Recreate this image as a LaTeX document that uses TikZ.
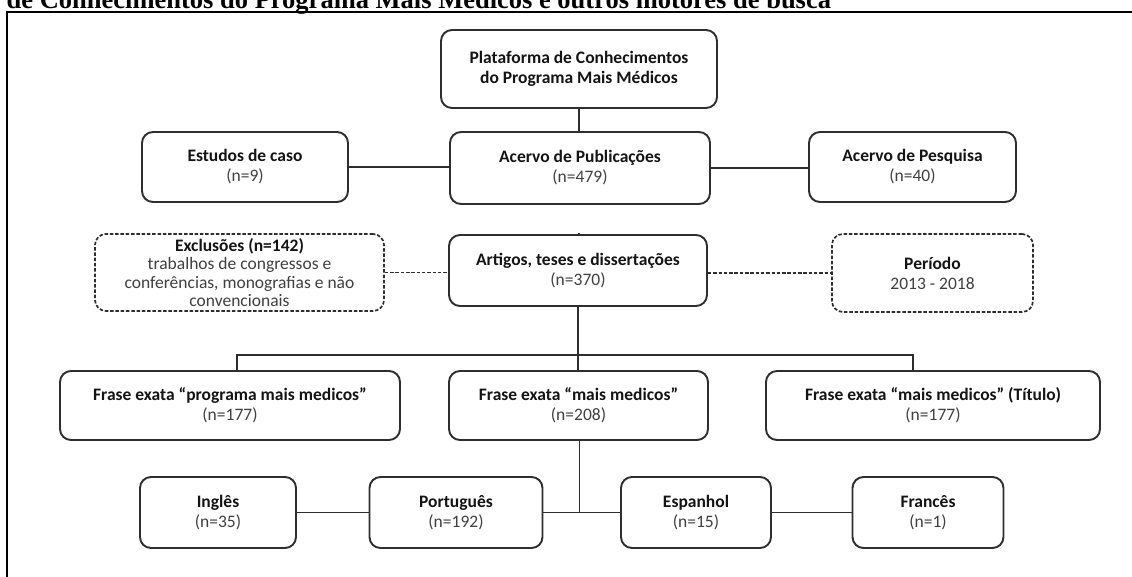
\documentclass[tikz,border=0pt]{standalone}
\usepackage{fontspec}
\setmainfont{Carlito}
\newfontfamily\titlefont{Liberation Serif}
\newcommand\hd[1]{{\bfseries\color{black!92}#1}}
\begin{document}
\begin{tikzpicture}[x=1pt,y=-1pt,
  box/.style={draw=black!82, line width=1.9pt, rounded corners=11pt, align=center, inner sep=0pt,
    font=\fontsize{17.5}{20}\selectfont, text=black!75},
  dbox/.style={box, line width=1.7pt, dash pattern=on 3.5pt off 1.8pt},
  link/.style={draw=black!82, line width=1.9pt},
  dlink/.style={link, line width=1.7pt, dash pattern=on 3.5pt off 1.8pt}]
\useasboundingbox (0,0) rectangle (1132,576);
\clip (0,0) rectangle (1132,576);
\fill[white] (0,0) rectangle (1132,576);
% title and frame
\node[anchor=base west, inner sep=0pt, font=\titlefont\bfseries\fontsize{26.5}{30}\selectfont] (title) at (6.5,8)
  {de Conhecimentos do Programa Mais Médicos e outros motores de busca};
\draw[line width=2pt, black] (7,600) -- (7,12) -- (1140,12);
% nodes
\node[box, minimum width=276pt, minimum height=78pt] (plat) at (579,69)
  {\hd{Plataforma de Conhecimentos}\\\hd{do Programa Mais Médicos}};
\node[box, minimum width=260pt, minimum height=72pt] (pub) at (580,168) {\hd{Acervo de Publicações}\\(n=479)};
\node[box, minimum width=206pt, minimum height=70pt] (est) at (245,167) {\hd{Estudos de caso}\\(n=9)};
\node[box, minimum width=207pt, minimum height=70pt] (pesq) at (912.5,167) {\hd{Acervo de Pesquisa}\\(n=40)};
\node[box, minimum width=258pt, minimum height=71pt] (art) at (578,270.5) {\hd{Artigos, teses e dissertações}\\(n=370)};
\node[dbox, minimum width=289pt, minimum height=77pt, font=\fontsize{17.5}{18.5}\selectfont] (excl) at (239.5,272.5)
  {\hd{Exclusões (n=142)}\\trabalhos de congressos e\\conferências, monografias e não\\convencionais};
\node[dbox, minimum width=201pt, minimum height=78pt] (per) at (932.5,273) {\hd{Período}\\2013 - 2018};
\node[box, minimum width=340pt, minimum height=69pt] (f1) at (230,405.5) {\hd{Frase exata “programa mais medicos”}\\(n=177)};
\node[box, minimum width=259pt, minimum height=69pt] (f2) at (578.5,405.5) {\hd{Frase exata “mais medicos”}\\(n=208)};
\node[box, minimum width=334pt, minimum height=69pt] (f3) at (933,405.5) {\hd{Frase exata “mais medicos” (Título)}\\(n=177)};
\node[box, minimum width=156pt, minimum height=71pt] (ing) at (218,512.5) {\hd{Inglês}\\(n=35)};
\node[box, minimum width=173pt, minimum height=71pt] (por) at (456,512.5) {\hd{Português}\\(n=192)};
\node[box, minimum width=150pt, minimum height=71pt] (esp) at (696,512.5) {\hd{Espanhol}\\(n=15)};
\node[box, minimum width=151pt, minimum height=71pt] (fra) at (928,512.5) {\hd{Francês}\\(n=1)};
% connectors
\coordinate (busL) at (237,355);
\coordinate (busR) at (913,355);
\coordinate (jn) at (579.5,512.5);
\draw[link] (plat.south) -- (plat.south |- pub.north);
\draw[link] (est.east) -- (est.east -| pub.west);
\draw[link] (pub.east) -- (pub.east -| pesq.west);
\draw[link] (art.north -| pub.south) -- (art.north);
\draw[dlink] (excl.east) -- (excl.east -| art.west);
\draw[dlink] (art.east |- per.west) -- (per.west);
\draw[link] (art.south) -- (art.south |- f2.north);
\draw[link] (busL |- f1.north) -- (busL) -- (busR) -- (busR |- f3.north);
\draw[link] (f2.south -| jn) -- (jn);
\draw[link] (ing.east) -- (por.west);
\draw[link] (por.east) -- (esp.west);
\draw[link] (esp.east) -- (fra.west);
\end{tikzpicture}
\end{document}
